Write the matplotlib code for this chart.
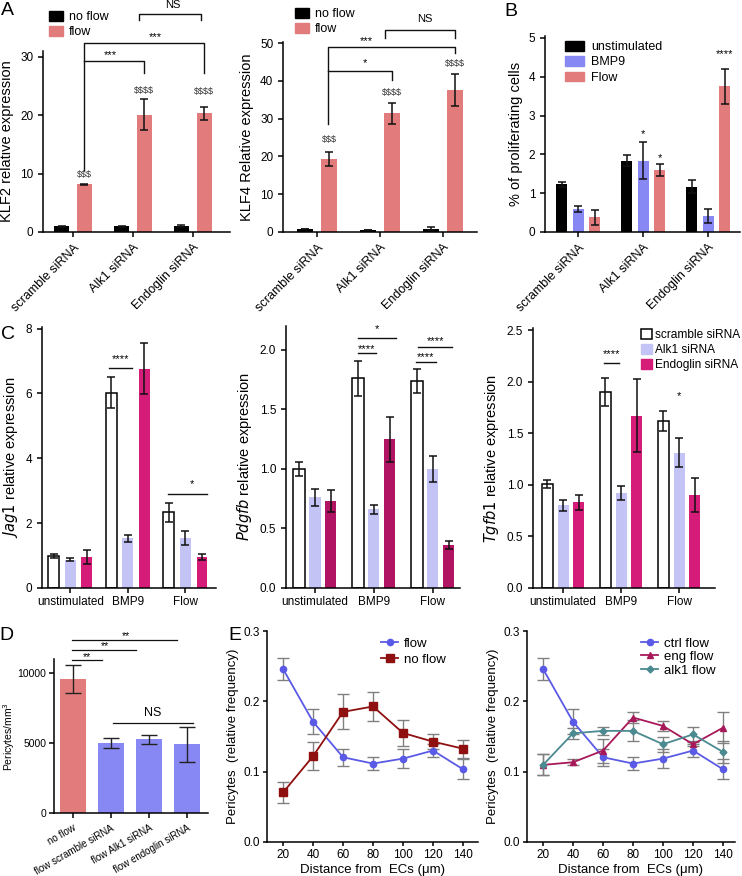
import matplotlib
matplotlib.use("Agg")
import numpy as np
from matplotlib import pyplot as plt

plt.rcParams["font.family"] = ["Liberation Sans", "DejaVu Sans"]
plt.rcParams["axes.linewidth"] = 1.1
plt.rcParams["xtick.major.width"] = 1.1
plt.rcParams["ytick.major.width"] = 1.1
plt.rcParams["xtick.major.size"] = 3.5
plt.rcParams["ytick.major.size"] = 3.5
plt.rcParams["xtick.labelsize"] = 8.5
plt.rcParams["ytick.labelsize"] = 8.5

# ---- data -------------------------------------------------------------
sirna_groups = ["scramble siRNA", "Alk1 siRNA", "Endoglin siRNA"]

klf2_noflow = [0.95, 1.0, 1.0]
klf2_noflow_err = [0.05, 0.1, 0.2]
klf2_flow = [8.2, 20.1, 20.3]
klf2_flow_err = [0.1, 2.65, 1.1]
klf2_marks = ["$$$", "$$$$", "$$$$"]

klf4_noflow = [0.8, 0.5, 0.8]
klf4_noflow_err = [0.05, 0.1, 0.4]
klf4_flow = [19.3, 31.4, 37.6]
klf4_flow_err = [1.8, 2.7, 4.3]
klf4_marks = ["$$$", "$$$$", "$$$$"]

prolif_unstim = [1.23, 1.84, 1.17]
prolif_unstim_err = [0.07, 0.15, 0.16]
prolif_bmp9 = [0.6, 1.84, 0.42]
prolif_bmp9_err = [0.08, 0.48, 0.18]
prolif_flow = [0.38, 1.59, 3.75]
prolif_flow_err = [0.19, 0.15, 0.46]

conditions = ["unstimulated", "BMP9", "Flow"]
jag1_scr = [1.0, 6.02, 2.33]
jag1_scr_err = [0.06, 0.48, 0.3]
jag1_alk1 = [0.87, 1.53, 1.55]
jag1_alk1_err = [0.04, 0.12, 0.21]
jag1_eng = [0.95, 6.77, 0.95]
jag1_eng_err = [0.22, 0.79, 0.1]

pdgfb_scr = [1.0, 1.76, 1.74]
pdgfb_scr_err = [0.06, 0.15, 0.1]
pdgfb_alk1 = [0.76, 0.66, 1.0]
pdgfb_alk1_err = [0.075, 0.035, 0.11]
pdgfb_eng = [0.73, 1.25, 0.36]
pdgfb_eng_err = [0.09, 0.19, 0.035]

tgfb1_scr = [1.01, 1.9, 1.62]
tgfb1_scr_err = [0.04, 0.14, 0.095]
tgfb1_alk1 = [0.8, 0.92, 1.31]
tgfb1_alk1_err = [0.05, 0.07, 0.14]
tgfb1_eng = [0.83, 1.67, 0.9]
tgfb1_eng_err = [0.075, 0.355, 0.165]

peri_labels = ["no flow", "flow scramble siRNA", "flow Alk1 siRNA", "flow endoglin siRNA"]
peri_density = [9570, 5000, 5270, 4900]
peri_density_err = [1000, 350, 330, 1250]

distance = [20, 40, 60, 80, 100, 120, 140]
freq_flow = [0.246, 0.171, 0.1205, 0.1115, 0.1186, 0.130, 0.1034]
freq_flow_err = [0.015, 0.018, 0.012, 0.009, 0.013, 0.009, 0.014]
freq_noflow = [0.0704, 0.122, 0.185, 0.1927, 0.155, 0.1427, 0.1327]
freq_noflow_err = [0.0146, 0.02, 0.025, 0.02, 0.019, 0.011, 0.013]
freq_eng = [0.1096, 0.1134, 0.130, 0.177, 0.165, 0.139, 0.1625]
freq_eng_err = [0.015, 0.004, 0.017, 0.0085, 0.0065, 0.003, 0.022]
freq_alk1 = [0.1096, 0.1545, 0.158, 0.158, 0.139, 0.153, 0.128]
freq_alk1_err = [0.015, 0.008, 0.006, 0.015, 0.011, 0.01, 0.016]

# ---- colours ----------------------------------------------------------
BLACK = "#000000"
PINK = "#e27c7c"
BLUE = "#8888f4"
LAVENDER = "#c3c3f6"
MAGENTA = "#d41c78"
MAGENTA_DARK = "#b01463"
LINE_BLUE = "#5a5ae6"
LINE_RED = "#8e1010"
LINE_ENG = "#a8195a"
LINE_ALK1 = "#4a8a90"

W, H = 742, 876
fig = plt.figure(figsize=(W / 100, H / 100), dpi=100)


def px_axes(x0, x1, ytop, ybot):
    ax = fig.add_axes([x0 / W, 1 - ybot / H, (x1 - x0) / W, (ybot - ytop) / H])
    ax.spines["top"].set_visible(False)
    ax.spines["right"].set_visible(False)
    return ax


def bars(ax, x, vals, errs, color, width, edge=None, ecap=3):
    ax.bar(x, vals, width, color=color, edgecolor=edge or color,
           linewidth=1.1 if edge else 0, zorder=2)
    ax.errorbar(x, vals, yerr=errs, fmt="none", ecolor="#111111",
                elinewidth=1.1, capsize=ecap, capthick=1.1, zorder=3)


def bracket(ax, xs, ys, lw=1.0):
    ax.plot(xs, ys, color="#111111", lw=lw, clip_on=False, zorder=4)


def star(ax, x, y, s, size=8):
    ax.text(x, y, s, ha="center", va="center", fontsize=size, clip_on=False)


def dollars(ax, xs, ys, labels):
    for x, y, s in zip(xs, ys, labels):
        ax.text(x, y, s.replace("$", r"\$"), ha="center", va="center",
                fontsize=6.5, color="#333333")


def panel_letter(x, y, s):
    fig.text(x / W, 1 - y / H, s, fontsize=14, ha="left", va="top")


def rot_labels(ax, labels, size=9):
    ax.set_xticklabels(labels, rotation=45, ha="right", rotation_mode="anchor",
                       fontsize=size)


# ---- A: KLF2 -----------------------------------------------------------
g = np.arange(3)
ax = px_axes(43, 230, 51, 232)
bars(ax, g - 0.19, klf2_noflow, klf2_noflow_err, BLACK, 0.25)
bars(ax, g + 0.19, klf2_flow, klf2_flow_err, PINK, 0.25)
ax.set_xlim(-0.5, 2.62)
ax.set_ylim(0, 31)
ax.set_yticks([0, 10, 20, 30])
ax.set_xticks(g)
rot_labels(ax, sirna_groups)
ax.set_ylabel("KLF2 relative expression", fontsize=10.5)
dollars(ax, g + 0.19, [9.9, 24.3, 24.0], klf2_marks)
bracket(ax, [0.19, 0.19, 2.19, 2.19], [10.6, 32.4, 32.4, 27.3])
bracket(ax, [0.19, 1.19, 1.19], [29.25, 29.25, 27.3])
bracket(ax, [1.1, 1.1, 2.14, 2.14], [36.25, 37.3, 37.3, 36.25])
star(ax, 0.62, 30.3, "***")
star(ax, 1.37, 33.4, "***")
star(ax, 1.67, 38.9, "NS", 8)
ax.legend(handles=[plt.Rectangle((0, 0), 1, 1, color=BLACK),
                   plt.Rectangle((0, 0), 1, 1, color=PINK)],
          labels=["no flow", "flow"], loc="upper left",
          bbox_to_anchor=(44 / W, 1 - 6 / H), bbox_transform=fig.transFigure,
          frameon=False, fontsize=9, handlelength=1.1, handleheight=0.8,
          handletextpad=0.5, labelspacing=0.25, borderaxespad=0)
panel_letter(1, 2, "A")

# ---- A: KLF4 -----------------------------------------------------------
ax = px_axes(283, 477, 42, 232)
bars(ax, g - 0.19, klf4_noflow, klf4_noflow_err, BLACK, 0.24)
bars(ax, g + 0.19, klf4_flow, klf4_flow_err, PINK, 0.24)
ax.set_xlim(-0.54, 2.54)
ax.set_ylim(0, 50.3)
ax.set_yticks([0, 10, 20, 30, 40, 50])
ax.set_xticks(g)
rot_labels(ax, sirna_groups)
ax.set_ylabel("KLF4 Relative expression", fontsize=10.5)
dollars(ax, g + 0.19, [24.4, 36.8, 44.5], klf4_marks)
bracket(ax, [0.17, 0.17, 2.19, 2.19], [28.7, 49.1, 49.1, 47.5])
bracket(ax, [0.17, 1.19, 1.19], [42.7, 42.7, 40.3])
bracket(ax, [1.08, 1.08, 2.19, 2.19], [51.3, 53.5, 53.5, 51.3])
star(ax, 0.79, 50.6, "***")
star(ax, 0.76, 44.7, "*")
star(ax, 1.71, 56.3, "NS", 8)
ax.legend(handles=[plt.Rectangle((0, 0), 1, 1, color=BLACK),
                   plt.Rectangle((0, 0), 1, 1, color=PINK)],
          labels=["no flow", "flow"], loc="upper left",
          bbox_to_anchor=(290 / W, 1 - 3 / H), bbox_transform=fig.transFigure,
          frameon=False, fontsize=9, handlelength=1.1, handleheight=0.8,
          handletextpad=0.5, labelspacing=0.25, borderaxespad=0)

# ---- B: proliferation ----------------------------------------------------
ax = px_axes(545, 740, 36, 232)
bars(ax, g - 0.254, prolif_unstim, prolif_unstim_err, BLACK, 0.17)
bars(ax, g, prolif_bmp9, prolif_bmp9_err, BLUE, 0.17)
bars(ax, g + 0.254, prolif_flow, prolif_flow_err, PINK, 0.17)
ax.set_xlim(-0.51, 2.49)
ax.set_ylim(0, 5.05)
ax.set_yticks([0, 1, 2, 3, 4, 5])
ax.set_xticks(g)
rot_labels(ax, sirna_groups)
ax.set_ylabel("% of proliferating cells", fontsize=10.5)
star(ax, 1.0, 2.52, "*")
star(ax, 1.254, 1.9, "*")
star(ax, 2.254, 4.58, "****")
ax.legend(handles=[plt.Rectangle((0, 0), 1, 1, color=c) for c in (BLACK, BLUE, PINK)],
          labels=["unstimulated", "BMP9", "Flow"], loc="upper left",
          bbox_to_anchor=(560 / W, 1 - 36 / H), bbox_transform=fig.transFigure,
          frameon=False, fontsize=9, handlelength=1.5, handleheight=0.8,
          handletextpad=0.6, labelspacing=0.25, borderaxespad=0)
panel_letter(504, 3, "B")


# ---- C: qPCR panels ------------------------------------------------------
def c_panel(x0, x1, top, ylim, ticks, fmt, scr, scr_e, alk, alk_e, eng, eng_e,
            off, eng_color, ylabel, xlim):
    ax = px_axes(x0, x1, top, 588)
    bars(ax, g - off, scr, scr_e, "white", 0.19, edge=BLACK)
    bars(ax, g, alk, alk_e, LAVENDER, 0.19)
    bars(ax, g + off, eng, eng_e, eng_color, 0.19)
    ax.set_xlim(*xlim)
    ax.set_ylim(0, ylim)
    ax.set_yticks(ticks)
    ax.set_yticklabels([fmt.format(t) for t in ticks])
    ax.set_xticks(g)
    ax.set_xticklabels(conditions, fontsize=8.5)
    ax.tick_params(axis="x", pad=2)
    ax.set_ylabel(ylabel, fontsize=10.5)
    return ax


ax = c_panel(42, 216, 327, 8.05, [0, 2, 4, 6, 8], "{:.0f}", jag1_scr, jag1_scr_err,
             jag1_alk1, jag1_alk1_err, jag1_eng, jag1_eng_err, 0.287, MAGENTA,
             r"$\it{Jag1}$ relative expression", (-0.49, 2.53))
bracket(ax, [0.68, 1.08], [6.78, 6.78])
star(ax, 0.88, 7.05, "****")
bracket(ax, [1.7, 2.38], [2.9, 2.9])
star(ax, 2.12, 3.22, "*")
panel_letter(1, 326, "C")

ax = c_panel(286, 460, 326, 2.2, [0, 0.5, 1.0, 1.5, 2.0], "{:.1f}", pdgfb_scr, pdgfb_scr_err,
             pdgfb_alk1, pdgfb_alk1_err, pdgfb_eng, pdgfb_eng_err, 0.27, MAGENTA_DARK,
             r"$\it{Pdgfb}$ relative expression", (-0.49, 2.46))
bracket(ax, [0.73, 1.03], [1.97, 1.97])
star(ax, 0.88, 2.01, "****")
bracket(ax, [0.73, 1.37], [2.1, 2.1])
star(ax, 1.05, 2.17, "*")
bracket(ax, [1.71, 2.05], [1.90, 1.90])
star(ax, 1.88, 1.94, "****")
bracket(ax, [1.74, 2.32], [2.02, 2.02])
star(ax, 2.05, 2.07, "****")

ax = c_panel(533, 715, 328, 2.52, [0, 0.5, 1.0, 1.5, 2.0, 2.5], "{:.1f}", tgfb1_scr, tgfb1_scr_err,
             tgfb1_alk1, tgfb1_alk1_err, tgfb1_eng, tgfb1_eng_err, 0.27, MAGENTA,
             r"$\it{Tgfb1}$ relative expression", (-0.52, 2.62))
bracket(ax, [0.71, 0.97], [2.18, 2.18])
star(ax, 0.84, 2.27, "****")
star(ax, 2.0, 1.86, "*")
ax.legend(handles=[plt.Rectangle((0, 0), 1, 1, facecolor="white", edgecolor=BLACK, lw=1.1),
                   plt.Rectangle((0, 0), 1, 1, color=LAVENDER),
                   plt.Rectangle((0, 0), 1, 1, color=MAGENTA)],
          labels=["scramble siRNA", "Alk1 siRNA", "Endoglin siRNA"], loc="upper left",
          bbox_to_anchor=(636 / W, 1 - 324 / H), bbox_transform=fig.transFigure,
          frameon=False, fontsize=8.6, handlelength=0.9, handleheight=0.9,
          handletextpad=0.25, labelspacing=0.25, borderaxespad=0)

# ---- D: pericyte density ------------------------------------------------
gd = np.arange(4)
ax = px_axes(54, 208, 659, 813)
ax.bar(gd, peri_density, 0.7, color=[PINK, BLUE, BLUE, BLUE], zorder=2)
ax.errorbar(gd, peri_density, yerr=peri_density_err, fmt="none", ecolor="#222222",
            elinewidth=1.0, capsize=6, capthick=1.0, zorder=3)
ax.set_xlim(-0.5, 3.55)
ax.set_ylim(0, 11000)
ax.set_yticks([0, 5000, 10000])
ax.tick_params(labelsize=7.5)
ax.tick_params(axis="y", pad=2)
ax.set_xticks(gd)
ax.set_xticklabels(peri_labels, rotation=30, ha="right", rotation_mode="anchor", fontsize=7)
ax.set_ylabel("Pericytes/mm$^3$", fontsize=7.5)
ax.yaxis.set_label_coords(-0.24, 0.5)
bracket(ax, [-0.03, 0.76], [10905, 10905], 0.9)
bracket(ax, [-0.03, 1.66], [11667, 11667], 0.9)
bracket(ax, [-0.03, 2.73], [12380, 12380], 0.9)
star(ax, 0.36, 11150, "**", 7.5)
star(ax, 0.85, 11900, "**", 7.5)
star(ax, 1.38, 12620, "**", 7.5)
bracket(ax, [1.05, 3.16], [6430, 6430], 0.9)
star(ax, 2.1, 7130, "NS", 9)
panel_letter(-1, 627, "D")


# ---- E: distance distributions -------------------------------------------
def e_axes(x0, x1):
    ax = px_axes(x0, x1, 631, 842)
    ax.set_ylim(0, 0.3)
    ax.set_yticks([0, 0.1, 0.2, 0.3])
    ax.set_yticklabels(["0.0", "0.1", "0.2", "0.3"])
    ax.set_xticks(distance)
    ax.tick_params(labelsize=8.5, pad=2, length=3)
    ax.set_xlabel("Distance from  ECs (\u03bcm)", fontsize=9.5, labelpad=2)
    ax.set_ylabel("Pericytes  (relative frequency)", fontsize=9.5, labelpad=3)
    return ax


def e_line(ax, y, err, color, marker, ms, label):
    ax.errorbar(distance, y, yerr=err, fmt="none", ecolor="#808080",
                elinewidth=1.0, capsize=4, capthick=1.0, zorder=2)
    ax.plot(distance, y, color=color, marker=marker, ms=ms, lw=1.3,
            label=label, zorder=3)


ax = e_axes(267, 478)
ax.set_xlim(9.3, 150)
e_line(ax, freq_flow, freq_flow_err, LINE_BLUE, "o", 4.5, "flow")
e_line(ax, freq_noflow, freq_noflow_err, LINE_RED, "s", 6, "no flow")
ax.legend(loc="upper left", bbox_to_anchor=(376 / W, 1 - 632 / H),
          bbox_transform=fig.transFigure, frameon=False, fontsize=9.5,
          handlelength=1.3, handletextpad=0.4, labelspacing=0.3, borderaxespad=0)
panel_letter(228, 627, "E")

ax = e_axes(527, 735)
ax.set_xlim(9.3, 148)
e_line(ax, freq_flow, freq_flow_err, LINE_BLUE, "o", 4.5, "ctrl flow")
e_line(ax, freq_eng, freq_eng_err, LINE_ENG, "^", 4.5, "eng flow")
e_line(ax, freq_alk1, freq_alk1_err, LINE_ALK1, "D", 3.5, "alk1 flow")
ax.legend(loc="upper left", bbox_to_anchor=(636 / W, 1 - 632 / H),
          bbox_transform=fig.transFigure, frameon=False, fontsize=9.5,
          handlelength=1.3, handletextpad=0.4, labelspacing=0.1, borderaxespad=0)

fig.savefig("out.png", dpi=100)
